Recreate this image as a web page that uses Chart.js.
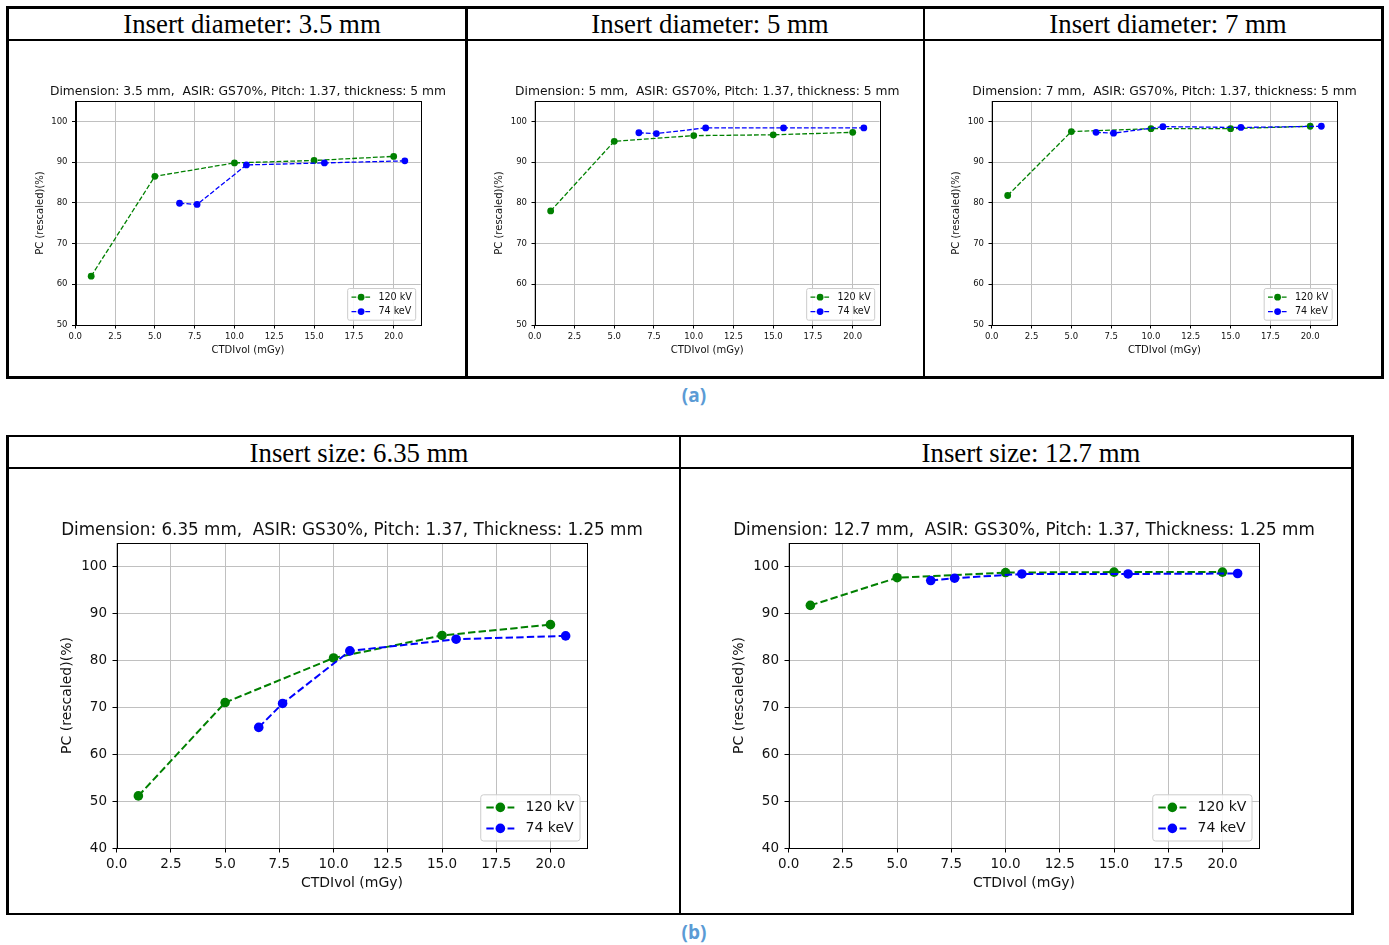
<!DOCTYPE html>
<html>
<head>
<meta charset="utf-8">
<script src="https://cdn.jsdelivr.net/npm/chart.js@4/dist/chart.umd.min.js"></script>
<style>
html,body{margin:0;padding:0;background:#fff;}
body{width:1389px;height:945px;position:relative;overflow:hidden;}
.ln{position:absolute;background:#000;}
.hd{position:absolute;font-family:"Liberation Serif","Times New Roman",serif;font-size:26.8px;color:#000;white-space:nowrap;transform:translate(-50%,-50%);line-height:1;}
.cap{position:absolute;font-family:"Open Sans",Lato,sans-serif;font-weight:bold;font-size:19px;color:#5B9BD5;transform:translate(-50%,-50%);line-height:1;white-space:nowrap;}
canvas{position:absolute;}
</style>
</head>
<body>
<script>
// ---------------- data ----------------
const xTicks = [0, 2.5, 5, 7.5, 10, 12.5, 15, 17.5, 20];
const yTicksTop = [50, 60, 70, 80, 90, 100];
const yTicksBottom = [40, 50, 60, 70, 80, 90, 100];
const seriesNames = ['120 kV', '74 keV'];

const dose120 = [1, 5, 10, 15, 20];
const dose74 = [6.55, 7.65, 10.75, 15.65, 20.7];

const pc120_d35 = [62.0, 86.5, 89.8, 90.4, 91.4];
const pc74_d35  = [79.9, 79.6, 89.3, 89.8, 90.3];
const pc120_d5  = [78.0, 95.1, 96.5, 96.7, 97.3];
const pc74_d5   = [97.2, 97.0, 98.4, 98.4, 98.4];
const pc120_d7  = [81.8, 97.5, 98.2, 98.2, 98.8];
const pc74_d7   = [97.3, 97.1, 98.7, 98.5, 98.8];
const pc120_s635 = [51.1, 71.0, 80.5, 85.3, 87.6];
const pc74_s635  = [65.7, 70.8, 82.0, 84.5, 85.2];
const pc120_s127 = [91.7, 97.6, 98.7, 98.8, 98.8];
const pc74_s127  = [97.0, 97.5, 98.4, 98.4, 98.5];

const xMin = 0.015, xMax = 21.685;
const yRangeTop = [50, 105];
const yRangeBottom = [40, 105];

const headersTop = ['Insert diameter: 3.5 mm', 'Insert diameter: 5 mm', 'Insert diameter: 7 mm'];
const headersBottom = ['Insert size: 6.35 mm', 'Insert size: 12.7 mm'];
const titles = [
  'Dimension: 3.5 mm,  ASIR: GS70%, Pitch: 1.37, thickness: 5 mm',
  'Dimension: 5 mm,  ASIR: GS70%, Pitch: 1.37, thickness: 5 mm',
  'Dimension: 7 mm,  ASIR: GS70%, Pitch: 1.37, thickness: 5 mm',
  'Dimension: 6.35 mm,  ASIR: GS30%, Pitch: 1.37, Thickness: 1.25 mm',
  'Dimension: 12.7 mm,  ASIR: GS30%, Pitch: 1.37, Thickness: 1.25 mm'
];
const xLabel = 'CTDIvol (mGy)';
const yLabel = 'PC (rescaled)(%)';

// ---------------- styling ----------------
const FONT = '"DejaVu Sans", sans-serif';
const GREEN = '#008000', BLUE = '#0000ff', GRID = '#c0c0c0', TXT = '#111';

function line(x, y, w, h) {
  const d = document.createElement('div');
  d.className = 'ln';
  d.style.left = x + 'px'; d.style.top = y + 'px';
  d.style.width = w + 'px'; d.style.height = h + 'px';
  document.body.appendChild(d);
}
function text(cls, t, x, y) {
  const d = document.createElement('div');
  d.className = cls; d.textContent = t;
  d.style.left = x + 'px'; d.style.top = y + 'px';
  document.body.appendChild(d);
}

// table frames
const T = 2.5;
line(6, 6, 1377.5, T); line(6, 38.8, 1377.5, T); line(6, 376, 1377.5, T);
line(6, 6, T, 372.5); line(1381, 6, T, 372.5);
line(465, 6, T, 372.5); line(922.8, 6, T, 372.5);
line(6, 434.8, 1347.5, T); line(6, 466.5, 1347.5, T); line(6, 912.8, 1347.5, T);
line(6, 434.8, T, 480.5); line(1351, 434.8, T, 480.5);
line(678.8, 434.8, T, 480.5);

text('hd', headersTop[0], 252, 24);
text('hd', headersTop[1], 710, 24);
text('hd', headersTop[2], 1168, 24);
text('hd', headersBottom[0], 359, 453);
text('hd', headersBottom[1], 1031, 453);
text('cap', '(a)', 694, 395);
text('cap', '(b)', 694, 932);

const styleTop = {tickFs: 8.5, labelFs: 10, legendFs: 9.6, titleFs: 12.3, titleGap: 8.8,
  yTitleGap: 35.5, xTitleGap: 25, lw: 1.3, r: 3.4, tickLen: 3.5, yPad: 4.5, xPad: 3, yRange: yRangeTop, yTicks: yTicksTop};
const styleBottom = {tickFs: 13.5, labelFs: 14, legendFs: 14, titleFs: 16.8, titleGap: 12.8,
  yTitleGap: 50, xTitleGap: 35, lw: 2, r: 4.8, tickLen: 4.5, yPad: 5.5, xPad: 3.5, yRange: yRangeBottom, yTicks: yTicksBottom};

function panelPlugin(p, s) {
  return {
    id: 'panelDeco',
    afterDatasetsDraw(chart) {
      const ctx = chart.ctx, a = chart.chartArea;
      ctx.save();
      ctx.strokeStyle = '#000'; ctx.lineWidth = 1; ctx.setLineDash([]);
      const l = Math.round(a.left) + 0.5, t = Math.round(a.top) + 0.5;
      ctx.strokeRect(l, t, Math.round(a.right) - Math.round(a.left), Math.round(a.bottom) - Math.round(a.top));
      ctx.fillStyle = TXT; ctx.font = s.titleFs + 'px ' + FONT;
      ctx.textAlign = 'center'; ctx.textBaseline = 'middle';
      ctx.fillText(p.title, (a.left + a.right) / 2, a.top - s.titleGap);
      const fs = s.legendFs;
      ctx.font = fs + 'px ' + FONT;
      const tw = Math.max(...seriesNames.map(n => ctx.measureText(n).width));
      const pad = 0.4 * fs, hl = 2 * fs, htp = 0.8 * fs, ls = 0.5 * fs, bap = 0.5 * fs, rowH = fs;
      const bw = 2 * pad + hl + htp + tw, bh = 2 * pad + 2 * rowH + ls;
      const bx = a.right - bap - bw, by = a.bottom - bap - bh;
      ctx.beginPath();
      ctx.roundRect(bx, by, bw, bh, 0.2 * fs);
      ctx.fillStyle = 'rgba(255,255,255,0.85)'; ctx.fill();
      ctx.strokeStyle = '#cccccc'; ctx.lineWidth = 1; ctx.stroke();
      const cols = [GREEN, BLUE];
      seriesNames.forEach((n, i) => {
        const cy = by + pad + rowH / 2 + i * (rowH + ls);
        ctx.strokeStyle = cols[i]; ctx.lineWidth = s.lw;
        ctx.setLineDash([3.7 * s.lw, 1.6 * s.lw]);
        ctx.beginPath(); ctx.moveTo(bx + pad, cy); ctx.lineTo(bx + pad + hl, cy); ctx.stroke();
        ctx.setLineDash([]);
        ctx.fillStyle = cols[i];
        ctx.beginPath(); ctx.arc(bx + pad + hl / 2, cy, s.r, 0, Math.PI * 2); ctx.fill();
        ctx.fillStyle = TXT; ctx.textAlign = 'left'; ctx.textBaseline = 'middle';
        ctx.fillText(n, bx + pad + hl + htp, cy);
      });
      ctx.restore();
    }
  };
}

function makePanel(p, s) {
  const lhL = s.labelFs * 1.2;
  const yW = s.yTitleGap + lhL / 2;
  const xH = s.xTitleGap + lhL / 2;
  const padTop = 40, padRight = 75, padLeftExtra = 18;
  const cl = Math.floor(p.L - yW - padLeftExtra), ct = Math.floor(p.T - padTop);
  const cw = Math.ceil(p.R + padRight) - cl;
  const ch = Math.ceil(p.B + xH) - ct;
  const padding = {
    left: (p.L - yW) - cl,
    top: p.T - ct,
    right: cl + cw - p.R,
    bottom: ct + ch - (p.B + xH)
  };
  const cv = document.createElement('canvas');
  cv.width = cw; cv.height = ch;
  cv.style.left = cl + 'px'; cv.style.top = ct + 'px';
  cv.style.width = cw + 'px'; cv.style.height = ch + 'px';
  document.body.appendChild(cv);

  const ds = (label, xs, ys, color, order) => ({
    label, order,
    data: xs.map((x, i) => ({x, y: ys[i]})),
    borderColor: color, backgroundColor: color,
    pointBackgroundColor: color, pointBorderColor: color,
    borderWidth: s.lw, borderDash: [3.7 * s.lw, 1.6 * s.lw],
    pointRadius: s.r, pointHoverRadius: s.r, pointBorderWidth: 0,
    pointStyle: 'circle', tension: 0, fill: false, clip: false
  });

  new Chart(cv, {
    type: 'line',
    data: {datasets: [
      ds(seriesNames[0], dose120, p.g, GREEN, 1),
      ds(seriesNames[1], dose74, p.b, BLUE, 0)
    ]},
    options: {
      responsive: false, maintainAspectRatio: false, animation: false, devicePixelRatio: 1,
      events: [],
      layout: {padding},
      plugins: {legend: {display: false}, title: {display: false}, tooltip: {enabled: false}},
      scales: {
        x: {
          type: 'linear', position: 'bottom', min: xMin, max: xMax, bounds: 'data',
          afterBuildTicks: sc => { sc.ticks = xTicks.map(v => ({value: v})); },
          afterFit: sc => { sc.height = xH; },
          ticks: {autoSkip: false, maxRotation: 0, minRotation: 0, padding: s.xPad, color: TXT,
            font: {family: FONT, size: s.tickFs}, callback: v => Number(v).toFixed(1)},
          grid: {color: GRID, lineWidth: 1, tickColor: '#000', tickLength: s.tickLen, drawTicks: true},
          border: {display: true, color: '#000', width: 1},
          title: {display: true, text: xLabel, color: TXT, font: {family: FONT, size: s.labelFs}, padding: 0}
        },
        y: {
          type: 'linear', position: 'left', min: s.yRange[0], max: s.yRange[1], bounds: 'data',
          afterBuildTicks: sc => { sc.ticks = s.yTicks.map(v => ({value: v})); },
          afterFit: sc => { sc.width = yW; },
          ticks: {autoSkip: false, padding: s.yPad, color: TXT,
            font: {family: FONT, size: s.tickFs}, callback: v => String(v)},
          grid: {color: GRID, lineWidth: 1, tickColor: '#000', tickLength: s.tickLen, drawTicks: true},
          border: {display: true, color: '#000', width: 1},
          title: {display: true, text: yLabel, color: TXT, font: {family: FONT, size: s.labelFs}, padding: 0}
        }
      }
    },
    plugins: [panelPlugin(p, s)]
  });
}

makePanel({L: 75.5, R: 420.5, T: 101, B: 325, title: titles[0], g: pc120_d35, b: pc74_d35}, styleTop);
makePanel({L: 535, R: 879.5, T: 101, B: 325, title: titles[1], g: pc120_d5, b: pc74_d5}, styleTop);
makePanel({L: 992, R: 1337, T: 101, B: 325, title: titles[2], g: pc120_d7, b: pc74_d7}, styleTop);
makePanel({L: 117, R: 587, T: 543, B: 848, title: titles[3], g: pc120_s635, b: pc74_s635}, styleBottom);
makePanel({L: 789, R: 1259, T: 543, B: 848, title: titles[4], g: pc120_s127, b: pc74_s127}, styleBottom);
</script>
</body>
</html>
